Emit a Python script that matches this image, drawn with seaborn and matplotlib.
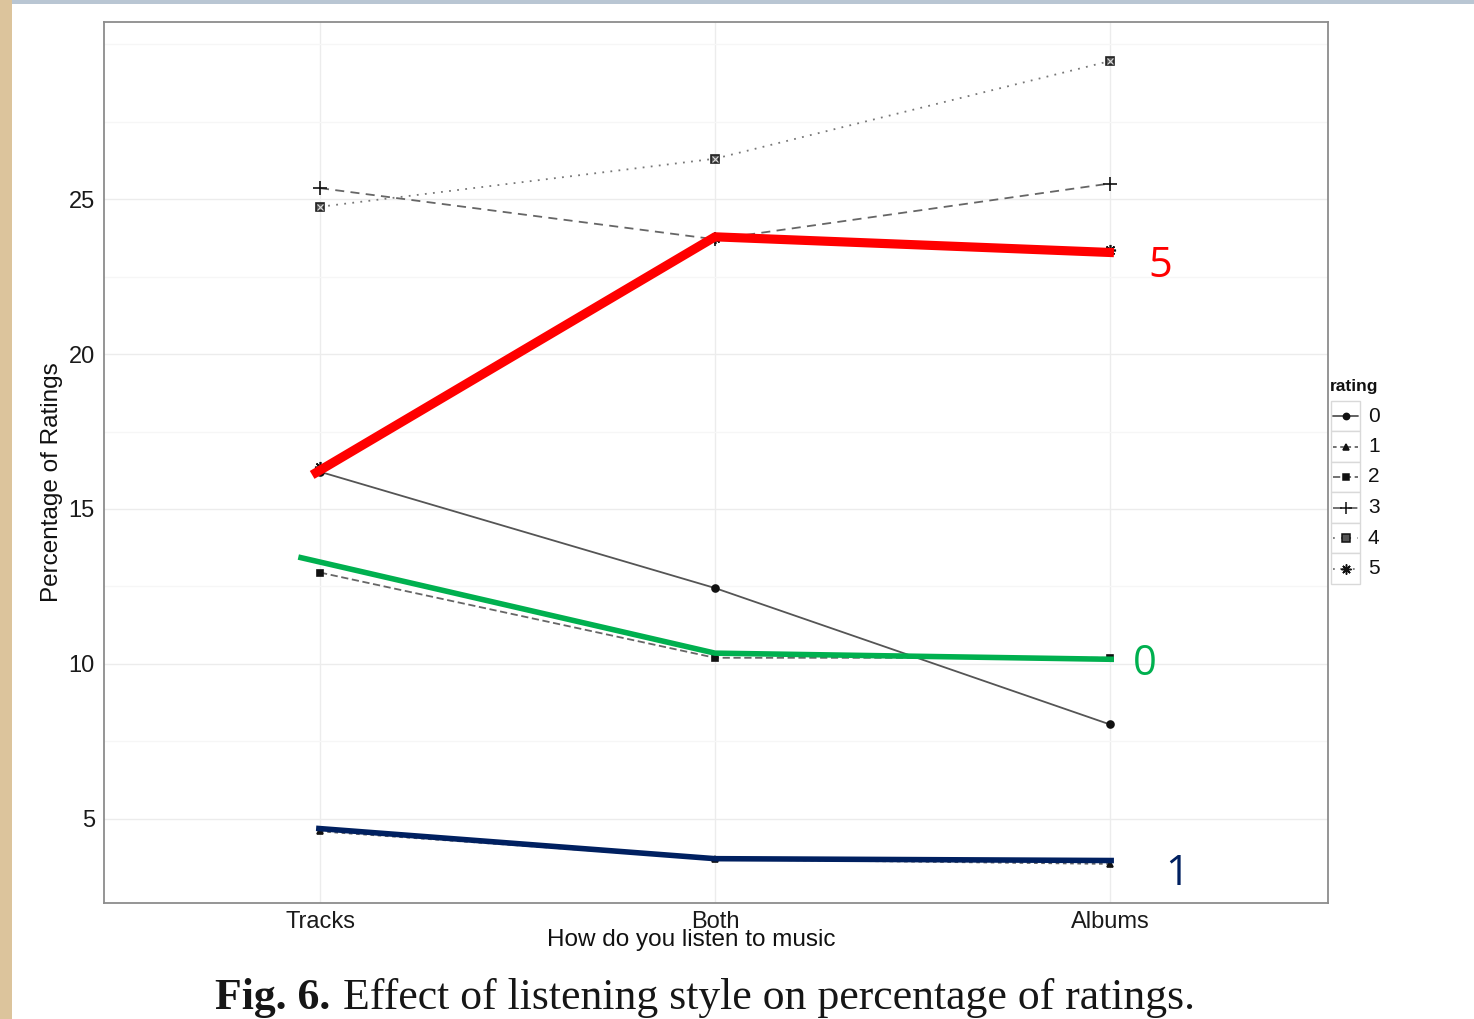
import matplotlib
matplotlib.use("Agg")
import matplotlib.pyplot as plt
from matplotlib.lines import Line2D
from matplotlib.patches import Rectangle
import seaborn as sns
import numpy as np
import pandas as pd

# ---------------- data ----------------
categories = ["Tracks", "Both", "Albums"]
ratings = ["0", "1", "2", "3", "4", "5"]
r0 = [16.2, 12.45, 8.05]
r1 = [4.6, 3.7, 3.55]
r2 = [12.95, 10.2, 10.2]
r3 = [25.35, 23.7, 25.5]
r4 = [24.75, 26.3, 29.45]
r5 = [16.35, 23.75, 23.35]
series = [r0, r1, r2, r3, r4, r5]

# hand-drawn highlight lines (annotations on the figure)
red_x = [-0.02, 1, 2.01]
red_y = [16.1, 23.78, 23.27]
green_x = [-0.055, 1, 2.01]
green_y = [13.45, 10.35, 10.15]
navy_x = [-0.01, 1, 2.01]
navy_y = [4.7, 3.72, 3.66]
highlight_labels = ["5", "0", "1"]

yticks = [5, 10, 15, 20, 25]
ytick_minor = [7.5, 12.5, 17.5, 22.5, 27.5, 30]

# ---------------- style ----------------
sns.set_style("white")
plt.rcParams['font.family'] = ['Liberation Sans', 'DejaVu Sans']

W, H = 1474, 1019
fig = plt.figure(figsize=(W / 100, H / 100), dpi=100)
fig.patch.set_facecolor("white")

def fx(px):
    return px / W

def fy(py):
    return 1 - py / H

# background fragments (wood strip at left, bluish strip at top)
fig.patches.append(Rectangle((0, 0), fx(12), 1, transform=fig.transFigure,
                             facecolor="#dcc49c", edgecolor="none", zorder=0))
fig.patches.append(Rectangle((fx(12), fy(4)), 1, fy(0) - fy(4), transform=fig.transFigure,
                             facecolor="#b9c6d3", edgecolor="none", zorder=0))

ax = fig.add_axes([fx(104), fy(903), fx(1328) - fx(104), fy(22) - fy(903)])
ax.set_xlim(-0.547, 2.552)
ax.set_ylim(2.29, 30.71)

# grid
ax.set_yticks(yticks)
ax.set_yticks(ytick_minor, minor=True)
ax.set_xticks([0, 1, 2])
ax.set_xticklabels(categories)
ax.grid(True, which="major", color="#ececec", linewidth=1.0, zorder=0)
ax.grid(True, which="minor", axis="y", color="#f6f6f6", linewidth=1.0, zorder=0)
ax.set_axisbelow(True)
ax.tick_params(axis="both", which="major", length=5, width=1, color="#888888",
               labelsize=17, labelcolor="#1a1a1a", pad=1.5)
ax.tick_params(axis="x", which="major", pad=1.0)
ax.tick_params(axis="y", which="minor", length=0)
for s in ax.spines.values():
    s.set_color("#8c8c8c")
    s.set_linewidth(1.3)

# ---------------- series ----------------
line_colors = ["#555555", "#666666", "#666666", "#666666", "#777777", "#777777"]
line_styles = ["-", (0, (2, 2)), (0, (4, 2)), (0, (5, 3.5)), (0, (1, 3.5)), (0, (1, 3, 4, 3))]
markers = ["o", "^", "s", "+", "s", (8, 2, 0)]
msizes = [5, 5, 5, 10, 6, 8]
pos = np.arange(len(categories))

for i, (lab, vals) in enumerate(zip(ratings, series)):
    df = pd.DataFrame({"pos": pos, "pct": vals})
    sns.lineplot(data=df, x="pos", y="pct", ax=ax, color=line_colors[i],
                 linewidth=1.3, sort=False, zorder=3)
    ln = ax.lines[-1]
    ln.set_linestyle(line_styles[i])
    ln.set_marker(markers[i])
    ln.set_markersize(msizes[i])
    if i == 4:
        ln.set_markerfacecolor("#555555")
        ln.set_markeredgecolor("#222222")
    else:
        ln.set_markerfacecolor("#111111")
        ln.set_markeredgecolor("#111111")
    ln.set_markeredgewidth(1.2)
    if i == 4:
        # the inner cross of the boxed-x marker
        sns.lineplot(data=df, x="pos", y="pct", ax=ax, color="none",
                     linewidth=0, sort=False, zorder=4)
        l2 = ax.lines[-1]
        l2.set_linestyle("none")
        l2.set_marker("x")
        l2.set_markersize(4)
        l2.set_markeredgecolor("#dddddd")
        l2.set_markeredgewidth(0.8)

# highlights
hl = [(red_x, red_y, "#ff0000", 6.6), (green_x, green_y, "#00b04f", 4.0),
      (navy_x, navy_y, "#002060", 4.0)]
for xs, ys, col, lw in hl:
    df = pd.DataFrame({"x": xs, "y": ys})
    sns.lineplot(data=df, x="x", y="y", ax=ax, color=col, linewidth=lw,
                 sort=False, zorder=6)
    ax.lines[-1].set_solid_capstyle("butt")
    ax.lines[-1].set_solid_joinstyle("round")

anno = [(2.127, 22.85, "#ff0000"), (2.089, 10.0, "#00b04f"), (2.17, 3.22, "#002060")]
for (x, y, c), t in zip(anno, highlight_labels):
    ax.text(x, y, t, color=c, fontsize=30, ha="center", va="center",
            family=["Open Sans", "DejaVu Sans"], clip_on=False, zorder=7)

ax.set_xlabel("")
ax.set_ylabel("")

# axis titles
fig.text(fx(691), fy(940), "How do you listen to music", ha="center", va="center",
         fontsize=17.5, color="#111111")
fig.text(fx(52), fy(482), "Percentage of Ratings", ha="center", va="center",
         rotation=90, fontsize=17.5, color="#111111")

# ---------------- legend (manual, ggplot-like) ----------------
fig.text(fx(1330), fy(387), "rating", ha="left", va="center", fontsize=12.5,
         fontweight="bold", color="#111111")
row_h = 30.5
for i, lab in enumerate(ratings):
    cy = 416 + row_h * i
    fig.patches.append(Rectangle((fx(1331), fy(cy + row_h / 2)), fx(29), (row_h) / H,
                                 transform=fig.transFigure, facecolor="white",
                                 edgecolor="#d9d9d9", linewidth=1.0, zorder=1))
    l = Line2D([fx(1333), fx(1358)], [fy(cy), fy(cy)], transform=fig.transFigure,
               color=line_colors[i], linewidth=1.3, linestyle=line_styles[i], zorder=2)
    fig.lines.append(l)
    m = Line2D([fx(1345.5)], [fy(cy)], transform=fig.transFigure, linestyle="none",
               marker=markers[i], markersize=msizes[i] * 0.9,
               markerfacecolor="#555555" if i == 4 else "#111111",
               markeredgecolor="#111111", markeredgewidth=1.1, zorder=3)
    fig.lines.append(m)
    fig.text(fx(1368), fy(cy), lab, ha="left", va="center", fontsize=15, color="#111111")

# ---------------- caption ----------------
serif = ["Liberation Serif", "DejaVu Serif"]
t1 = fig.text(fx(215), fy(1009), "Fig. 6.", ha="left", va="baseline", fontsize=31.5,
              fontweight="bold", family=serif, color="#161616")
fig.canvas.draw()
bb = t1.get_window_extent(fig.canvas.get_renderer())
fig.text(bb.x1 / W + fx(13), fy(1009),
         "Effect of listening style on percentage of ratings.", ha="left",
         va="baseline", fontsize=31.5, family=serif, color="#161616")

fig.savefig("out.png", dpi=100, facecolor=fig.get_facecolor())
